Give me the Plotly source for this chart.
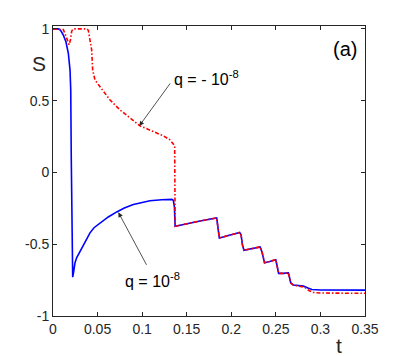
import plotly.graph_objects as go

# S(t) for q = 10^-8 (blue, solid)
t_blue = [0, 0.006, 0.0085, 0.0116, 0.0145, 0.0172, 0.0191, 0.0199, 0.0205, 0.0212, 0.0221,
          0.0232, 0.0247, 0.0265, 0.0303, 0.0330, 0.0360, 0.0415, 0.0460, 0.0527, 0.0620,
          0.0715, 0.0800, 0.0901, 0.1000, 0.1088, 0.1220, 0.1332, 0.1350, 0.1362, 0.1370]
s_blue = [1, 1, 0.99, 0.956, 0.91, 0.83, 0.713, 0.574, 0.1, -0.45, -0.73,
          -0.69, -0.629, -0.595, -0.549, -0.515, -0.48, -0.421, -0.385, -0.351, -0.31,
          -0.275, -0.248, -0.224, -0.207, -0.197, -0.19, -0.188, -0.194, -0.24, -0.375]

# S(t) for q = -10^-8 (red, dash-dot)
t_red = [0, 0.008, 0.0116, 0.0145, 0.0165, 0.018, 0.0195, 0.0210, 0.0230, 0.0380, 0.0396,
         0.0415, 0.0434, 0.0445, 0.0471, 0.0527, 0.0640, 0.0752, 0.0864, 0.0976, 0.1125,
         0.1237, 0.1313, 0.1350, 0.1365, 0.1370]
s_red = [1, 1, 0.995, 0.95, 0.91, 0.89, 0.92, 0.985, 1.0, 1.0, 0.99,
         0.93, 0.852, 0.713, 0.644, 0.597, 0.505, 0.435, 0.378, 0.324, 0.285,
         0.255, 0.227, 0.192, 0.185, -0.375]

# shared staircase after t ~ 0.137
t_tail = [0.1500, 0.1650, 0.1836, 0.1845, 0.1855, 0.1866, 0.1980, 0.2094, 0.2110, 0.2125,
          0.2142, 0.2240, 0.2323, 0.2345, 0.2362, 0.2373, 0.2430, 0.2499, 0.2512, 0.2522,
          0.2531, 0.2580, 0.2640, 0.2655, 0.2667, 0.2695, 0.2763]
s_tail = [-0.357, -0.338, -0.317, -0.36, -0.44, -0.456, -0.437, -0.418, -0.435, -0.505,
          -0.542, -0.530, -0.519, -0.555, -0.615, -0.629, -0.620, -0.608, -0.645, -0.69,
          -0.703, -0.703, -0.700, -0.735, -0.77, -0.784, -0.790]

t_blue_end = [0.2810, 0.2860, 0.2904, 0.3000, 0.3500]
s_blue_end = [-0.792, -0.805, -0.815, -0.819, -0.820]
t_red_end = [0.2826, 0.2870, 0.2920, 0.3000, 0.3500]
s_red_end = [-0.800, -0.822, -0.836, -0.840, -0.842]

x_ticks = [0, 0.05, 0.1, 0.15, 0.2, 0.25, 0.3, 0.35]
x_labels = ["0", "0.05", "0.1", "0.15", "0.2", "0.25", "0.3", "0.35"]
y_ticks = [-1, -0.5, 0, 0.5, 1]
y_labels = ["-1", "-0.5", "0", "0.5", "1"]

FONT = "Liberation Sans, Arial, Helvetica, sans-serif"
INK = "#262626"

fig = go.Figure()
fig.add_trace(go.Scatter(
    x=t_blue + t_tail + t_blue_end, y=s_blue + s_tail + s_blue_end,
    mode="lines", line=dict(color="#0000ff", width=1.6), showlegend=False,
))
fig.add_trace(go.Scatter(
    x=t_red + t_tail + t_red_end, y=s_red + s_tail + s_red_end,
    mode="lines", line=dict(color="#ff0000", width=1.6, dash="4px,2px,1.5px,2px"),
    showlegend=False,
))

axis_style = dict(
    showline=True, linecolor=INK, linewidth=1, mirror="ticks",
    ticks="inside", ticklen=4, tickcolor=INK, showgrid=False, zeroline=False,
    tickfont=dict(family=FONT, size=14, color=INK),
)
fig.update_xaxes(range=[0, 0.35], tickvals=x_ticks, ticktext=x_labels, **axis_style)
fig.update_yaxes(range=[-1, 1.02], tickvals=y_ticks, ticktext=y_labels, **axis_style)

# arrows
fig.add_annotation(x=0.0968, y=0.324, ax=32, ay=-44, text="", showarrow=True,
                   arrowhead=2, arrowsize=1.2, arrowwidth=0.8, arrowcolor=INK)
fig.add_annotation(x=0.0733, y=-0.278, ax=29, ay=54, text="", showarrow=True,
                   arrowhead=2, arrowsize=1.2, arrowwidth=0.8, arrowcolor=INK)

# labels
fig.add_annotation(x=0.1335, y=0.66, text="q = - 10<sup>-8</sup>", showarrow=False,
                   xanchor="left", yanchor="middle", font=dict(family=FONT, size=16, color="black"))
fig.add_annotation(x=0.0782, y=-0.75, text="q = 10<sup>-8</sup>", showarrow=False,
                   xanchor="left", yanchor="middle", font=dict(family=FONT, size=16, color="black"))
fig.add_annotation(x=0.3115, y=0.86, text="(a)", showarrow=False,
                   xanchor="left", yanchor="middle", font=dict(family=FONT, size=20, color="black"))
fig.add_annotation(x=-0.045, y=0.869, xref="paper", yref="paper", text="S", showarrow=False,
                   xanchor="center", yanchor="middle", font=dict(family=FONT, size=21, color=INK))
fig.add_annotation(x=0.917, y=-0.103, xref="paper", yref="paper", text="t", showarrow=False,
                   xanchor="center", yanchor="middle", font=dict(family=FONT, size=21, color=INK))

# page body has an 8px margin, so the figure is shrunk and shifted to match
fig.update_layout(
    width=395, height=348,
    margin=dict(l=45, r=38, t=18, b=40),
    paper_bgcolor="white", plot_bgcolor="white",
)

fig.write_html("out.html")
